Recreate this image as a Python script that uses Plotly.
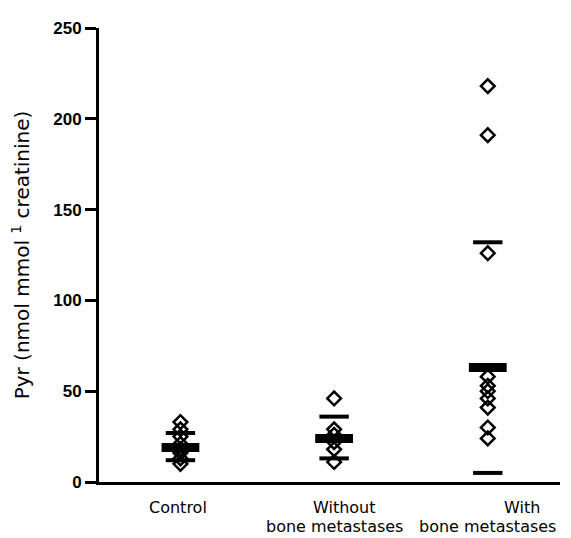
import plotly.graph_objects as go

# ---- data ----
groups = [1, 2, 3]
label_line1 = ["Control", "Without", "With"]
label_line2 = ["", "bone metastases", "bone metastases"]

control_vals = [33, 29, 25, 21, 18, 16, 13, 10]
without_vals = [46, 29, 26, 22, 18, 11]
with_vals = [218, 191, 126, 58, 53, 50, 46, 41, 30, 24]

mean_vals = [19, 24, 63]
upper_vals = [27, 36, 132]
lower_vals = [12, 13, 5]

y_ticks = [0, 50, 100, 150, 200, 250]

all_vals = [control_vals, without_vals, with_vals]

fig = go.Figure()

for g, vals in zip(groups, all_vals):
    fig.add_trace(go.Scatter(
        x=[g] * len(vals), y=vals, mode="markers",
        marker=dict(symbol="diamond-open", size=10.5, color="black",
                    line=dict(color="black", width=2.5)),
        showlegend=False, hoverinfo="y"))

# SD bars (thin)
fig.add_trace(go.Scatter(
    x=groups + groups, y=upper_vals + lower_vals, mode="markers",
    marker=dict(symbol="line-ew", size=21, color="black",
                line=dict(color="black", width=4)),
    showlegend=False, hoverinfo="y"))

# mean bars (thick)
fig.add_trace(go.Scatter(
    x=groups, y=mean_vals, mode="markers",
    marker=dict(symbol="line-ew", size=27, color="black",
                line=dict(color="black", width=9)),
    showlegend=False, hoverinfo="y"))

# category labels
line1_shift = [-2, 10, 34]
for g, t1, t2, s in zip(groups, label_line1, label_line2, line1_shift):
    fig.add_annotation(x=g, y=0, xref="x", yref="paper", text=t1,
                       showarrow=False, xanchor="center", yanchor="middle",
                       xshift=s, yshift=-25,
                       font=dict(family="DejaVu Sans", size=16, color="black"))
    if t2:
        fig.add_annotation(x=g, y=0, xref="x", yref="paper", text=t2,
                           showarrow=False, xanchor="center", yanchor="middle",
                           yshift=-44,
                           font=dict(family="DejaVu Sans", size=16, color="black"))

# the page places the figure 8px in from the top-left corner
fig.update_layout(
    width=563, height=530,
    margin=dict(l=89, r=11, t=14, b=56),
    plot_bgcolor="white", paper_bgcolor="white",
    xaxis=dict(range=[0.47, 3.47], showgrid=False, zeroline=False,
               showticklabels=False, ticks="", showline=True,
               linecolor="black", linewidth=3),
    yaxis=dict(range=[0, 250], tickvals=y_ticks, showgrid=False, zeroline=False,
               ticks="outside", ticklen=11, tickwidth=2.5, tickcolor="black",
               showline=True, linecolor="black", linewidth=3,
               tickfont=dict(family="Liberation Sans", size=17, color="black",
                             weight="bold"),
               title=dict(text="Pyr (nmol mmol <sup>1</sup> creatinine)",
                          standoff=20,
                          font=dict(family="DejaVu Sans", size=20, color="black"))),
)

fig.write_html("out.html")
